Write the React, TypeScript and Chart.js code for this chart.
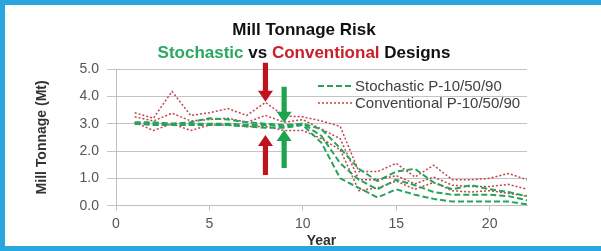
import React, { useEffect, useRef } from 'react';
import { Chart, registerables } from 'chart.js';

Chart.register(...registerables);

const years = [1, 2, 3, 4, 5, 6, 7, 8, 9, 10, 11, 12, 13, 14, 15, 16, 17, 18, 19, 20, 21, 22];

const stochP90 = [3.05, 3.05, 3.0, 3.05, 3.2, 3.15, 3.05, 3.0, 2.95, 3.0, 2.8, 2.1, 1.35, 0.9, 1.25, 1.35, 0.85, 0.6, 0.75, 0.6, 0.5, 0.35];
const stochP50 = [3.0, 3.0, 3.0, 3.0, 3.0, 3.0, 2.95, 2.95, 2.9, 3.0, 2.55, 1.55, 0.95, 0.6, 0.95, 0.75, 0.5, 0.4, 0.4, 0.4, 0.35, 0.2];
const stochP10 = [3.0, 2.95, 2.95, 2.95, 2.95, 2.95, 2.9, 2.85, 2.85, 2.95, 2.3, 1.0, 0.65, 0.3, 0.6, 0.4, 0.25, 0.15, 0.15, 0.15, 0.15, 0.05];

const convP90 = [3.4, 3.2, 4.18, 3.3, 3.4, 3.55, 3.3, 3.78, 3.28, 3.25, 3.1, 2.9, 1.25, 1.25, 1.55, 1.05, 1.48, 0.95, 0.95, 1.0, 1.18, 0.95];
const convP50 = [3.25, 3.1, 3.38, 3.1, 3.15, 3.2, 3.05, 3.3, 3.05, 3.15, 2.8, 2.45, 0.95, 0.95, 1.1, 0.8, 1.05, 0.75, 0.7, 0.7, 0.78, 0.6];
const convP10 = [3.05, 2.75, 3.0, 2.75, 2.95, 2.95, 2.9, 2.9, 2.75, 2.75, 2.45, 2.05, 0.55, 0.65, 0.9, 0.6, 0.85, 0.55, 0.5, 0.55, 0.45, 0.35];

const xTickValues = [0, 5, 10, 15, 20];
const legendLabels = ['Stochastic P-10/50/90', 'Conventional P-10/50/90'];

const arrowX = [8, 8, 9, 9];
const arrowFrom = [5.23, 1.12, 4.35, 1.38];
const arrowTo = [3.8, 2.59, 3.03, 2.77];
const arrowColors = ['#c0141c', '#c0141c', '#1ea34f', '#1ea34f'];

const GREEN = '#25a35a';
const RED = '#c4434a';
const FONT = '"Liberation Sans", Arial, sans-serif';

const toPts = (arr: number[]) => arr.map((y, i) => ({ x: years[i], y }));

const greenStyle = { borderColor: GREEN, borderWidth: 2, borderDash: [6, 3], pointRadius: 0, fill: false, tension: 0 };
const redStyle = { borderColor: RED, borderWidth: 1.5, borderDash: [2, 2], pointRadius: 0, fill: false, tension: 0 };

const decorPlugin = {
  id: 'decor',
  beforeDraw(chart: any) {
    const { ctx, width, height } = chart;
    ctx.save();
    ctx.fillStyle = '#ffffff';
    ctx.fillRect(0, 0, width, height);
    ctx.restore();
  },
  afterDatasetsDraw(chart: any) {
    const { ctx, scales } = chart;
    const xs = scales.x;
    const ys = scales.y;
    ctx.save();
    for (let i = 0; i < arrowX.length; i++) {
      const px = xs.getPixelForValue(arrowX[i]);
      const y0 = ys.getPixelForValue(arrowFrom[i]);
      const y1 = ys.getPixelForValue(arrowTo[i]);
      const dir = y1 > y0 ? 1 : -1;
      const headLen = 11;
      const headW = 7.5;
      const shaftW = 2.6;
      ctx.fillStyle = arrowColors[i];
      ctx.beginPath();
      ctx.moveTo(px - shaftW, y0);
      ctx.lineTo(px + shaftW, y0);
      ctx.lineTo(px + shaftW, y1 - dir * headLen);
      ctx.lineTo(px + headW, y1 - dir * headLen);
      ctx.lineTo(px, y1);
      ctx.lineTo(px - headW, y1 - dir * headLen);
      ctx.lineTo(px - shaftW, y1 - dir * headLen);
      ctx.closePath();
      ctx.fill();
    }
    // legend
    const lx0 = 318, lx1 = 352;
    const rows = [86, 103];
    ctx.font = `15px ${FONT}`;
    ctx.textBaseline = 'middle';
    ctx.textAlign = 'left';
    for (let r = 0; r < 2; r++) {
      ctx.beginPath();
      ctx.strokeStyle = r === 0 ? GREEN : RED;
      ctx.lineWidth = r === 0 ? 2 : 1.5;
      ctx.setLineDash(r === 0 ? [6, 3] : [2, 2]);
      ctx.moveTo(lx0, rows[r]);
      ctx.lineTo(lx1, rows[r]);
      ctx.stroke();
      ctx.setLineDash([]);
      ctx.fillStyle = '#404040';
      ctx.fillText(legendLabels[r], 355, rows[r] + 1);
    }
    ctx.restore();
  },
  afterDraw(chart: any) {
    const { ctx, width, height } = chart;
    ctx.save();
    // title
    ctx.textBaseline = 'middle';
    ctx.textAlign = 'left';
    ctx.font = `bold 17px ${FONT}`;
    const cx = 304;
    const t1 = 'Mill Tonnage Risk';
    const w1 = ctx.measureText(t1).width;
    ctx.fillStyle = '#111111';
    ctx.fillText(t1, cx - w1 / 2, 30);
    const segs: [string, string][] = [
      ['Stochastic', '#2aa862'],
      [' vs ', '#111111'],
      ['Conventional', '#c8202a'],
      [' Designs', '#111111'],
    ];
    const total = segs.reduce((s, [t]) => s + ctx.measureText(t).width, 0);
    let x = cx - total / 2;
    for (const [t, c] of segs) {
      ctx.fillStyle = c;
      ctx.fillText(t, x, 53);
      x += ctx.measureText(t).width;
    }
    // frame
    ctx.fillStyle = '#29a6de';
    ctx.fillRect(0, 0, width, 5);
    ctx.fillRect(0, 0, 5, height);
    ctx.fillRect(0, height - 5, width, 5);
    ctx.restore();
  },
};

export default function App() {
  const ref = useRef<HTMLCanvasElement | null>(null);
  useEffect(() => {
    if (!ref.current) return;
    const chart = new Chart(ref.current, {
      type: 'line',
      data: {
        datasets: [
          { label: 'Stochastic P-90', data: toPts(stochP90), ...greenStyle },
          { label: 'Stochastic P-50', data: toPts(stochP50), ...greenStyle },
          { label: 'Stochastic P-10', data: toPts(stochP10), ...greenStyle },
          { label: 'Conventional P-90', data: toPts(convP90), ...redStyle },
          { label: 'Conventional P-50', data: toPts(convP50), ...redStyle },
          { label: 'Conventional P-10', data: toPts(convP10), ...redStyle },
        ] as any,
      },
      options: {
        animation: false,
        responsive: false,
        maintainAspectRatio: false,
        devicePixelRatio: 1,
        layout: { padding: { left: 0, right: 74, top: 69, bottom: 0 } },
        plugins: { legend: { display: false }, title: { display: false }, tooltip: { enabled: false } },
        scales: {
          x: {
            type: 'linear',
            min: 0,
            max: 22,
            afterBuildTicks: (s: any) => { s.ticks = xTickValues.map((v) => ({ value: v })); },
            afterFit: (s: any) => { s.height = 45.3; },
            grid: { drawOnChartArea: false, drawTicks: true, tickLength: 5, color: '#bfbfbf' },
            border: { color: '#bfbfbf' },
            ticks: { font: { family: FONT, size: 14 }, color: '#555555', padding: 5, maxRotation: 0 },
            title: { display: true, text: 'Year', font: { family: FONT, size: 14, weight: 'bold' }, color: '#333333', padding: { top: 0, bottom: 1.5 } },
          },
          y: {
            min: 0,
            max: 5,
            afterFit: (s: any) => { s.width = 116; },
            ticks: { stepSize: 1, callback: (v: any) => Number(v).toFixed(1), font: { family: FONT, size: 14 }, color: '#555555', padding: 8 },
            grid: { color: '#c4c4c4', tickLength: 9 },
            border: { color: '#bfbfbf' },
            title: { display: true, text: 'Mill Tonnage (Mt)', font: { family: FONT, size: 14, weight: 'bold' }, color: '#333333', padding: { top: 34, bottom: 0 } },
          },
        },
      } as any,
      plugins: [decorPlugin],
    });
    return () => chart.destroy();
  }, []);
  return (
    <div style={{ position: 'fixed', left: 0, top: 0, width: 601, height: 251 }}>
      <canvas ref={ref} width={601} height={251} style={{ width: 601, height: 251, display: 'block' }} />
    </div>
  );
}
